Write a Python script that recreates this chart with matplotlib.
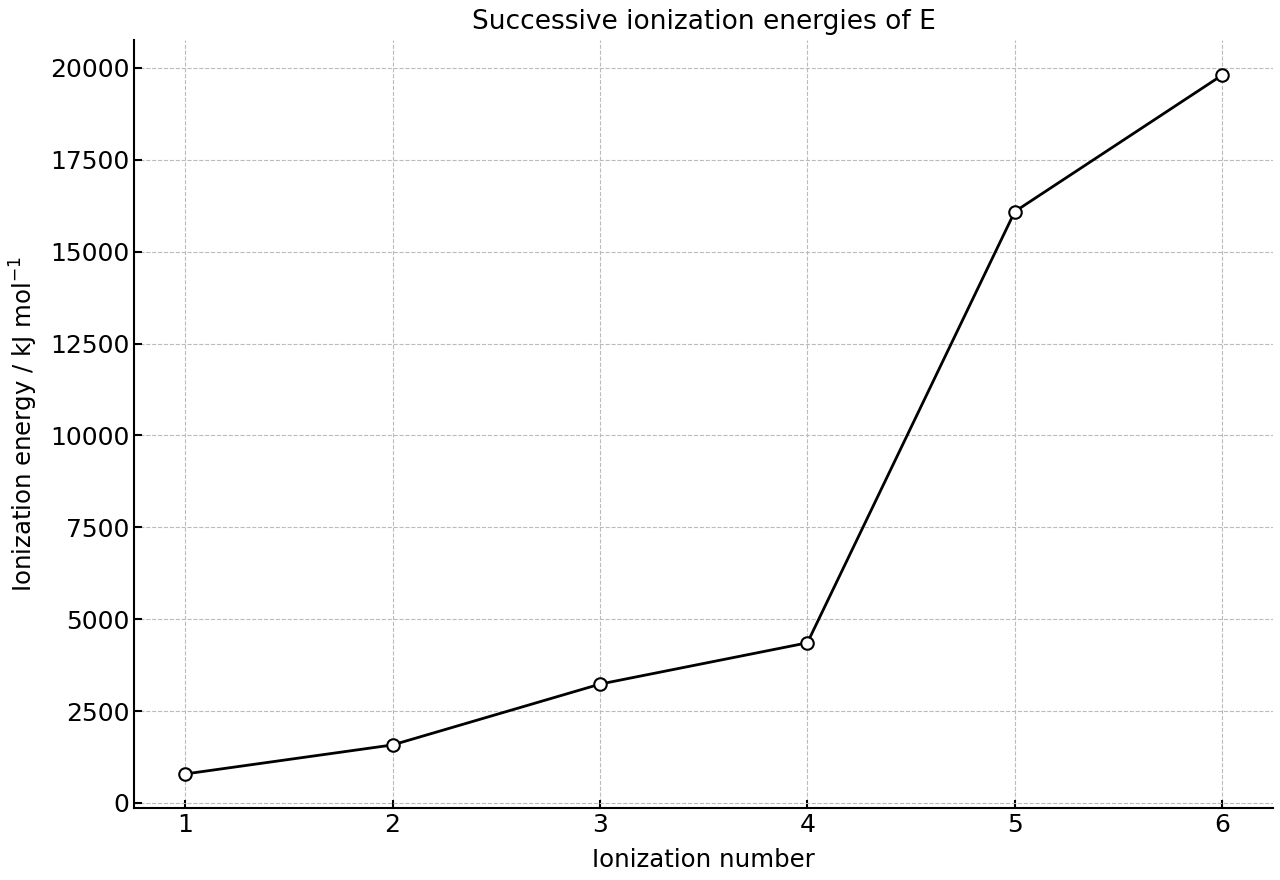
import matplotlib
matplotlib.use("Agg")
import matplotlib.pyplot as plt

ionization_number = [1, 2, 3, 4, 5, 6]
energies = [787, 1577, 3232, 4356, 16091, 19805]
yticks = [0, 2500, 5000, 7500, 10000, 12500, 15000, 17500, 20000]

fig = plt.figure(figsize=(12.8, 8.8), dpi=100)
ax = fig.add_axes([0.1047, 0.0818, 0.8898, 0.8727])
ax.plot(ionization_number, energies, color="black", lw=2, marker="o",
        markersize=9, markerfacecolor="white", markeredgecolor="black",
        markeredgewidth=1.5, zorder=3)
ax.set_xlim(0.753, 6.245)
ax.set_ylim(-140, 20760)
ax.set_xticks(ionization_number)
ax.set_yticks(yticks)
ax.grid(True, linestyle="--", color="#bbbbbb", lw=0.8)
for s in ["top", "right"]:
    ax.spines[s].set_visible(False)
for s in ["left", "bottom"]:
    ax.spines[s].set_linewidth(1.5)
ax.tick_params(direction="in", labelsize=18, width=1.5, length=6)
ax.set_xlabel("Ionization number", fontsize=17.6, labelpad=8)
ax.set_ylabel("Ionization energy / kJ mol$^{-1}$", fontsize=17.6, labelpad=7)
ax.set_title("Successive ionization energies of E", fontsize=19, pad=8)
fig.savefig("out.png", dpi=100)
